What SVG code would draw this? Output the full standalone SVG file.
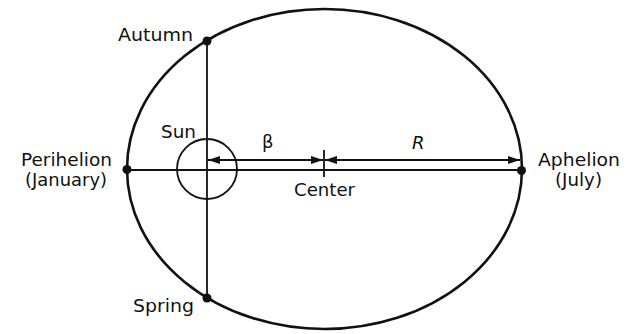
<svg xmlns="http://www.w3.org/2000/svg" width="632" height="334" viewBox="0 0 632 334">
<style>
.lbl{font-family:"DejaVu Sans","Liberation Sans",sans-serif;font-size:18px;fill:#111}
.sm{font-size:17px}
.ln{stroke:#111;stroke-width:1.8;fill:none}
.dot{fill:#111}
</style>
<defs>
<marker id="ah" viewBox="0 0 12 8" refX="12" refY="4" markerWidth="12" markerHeight="8" markerUnits="userSpaceOnUse" orient="auto-start-reverse">
<path d="M0,0 L12,4 L0,8 z" fill="#111"/>
</marker>
</defs>
<rect width="632" height="334" fill="#fff"/>
<g id="orbit">
<ellipse cx="324.5" cy="169" rx="197.5" ry="160" fill="none" stroke="#111" stroke-width="2.6"/>
</g>
<g id="connectors">
<line class="ln" x1="127" y1="170" x2="522" y2="170"/>
<line class="ln" x1="207" y1="41" x2="207" y2="298"/>
<line class="ln" x1="324" y1="150" x2="324" y2="177"/>
<line class="ln" x1="208" y1="160" x2="323" y2="160" marker-start="url(#ah)" marker-end="url(#ah)"/>
<line class="ln" x1="325" y1="160" x2="520" y2="160" marker-start="url(#ah)" marker-end="url(#ah)"/>
</g>
<g id="sun">
<circle cx="207" cy="169" r="30" fill="none" stroke="#111" stroke-width="1.8"/>
<text class="lbl" x="161" y="138" textLength="35" lengthAdjust="spacingAndGlyphs">Sun</text>
</g>
<g id="autumn">
<circle class="dot" cx="207" cy="41" r="4.5"/>
<text class="lbl" x="118" y="41" textLength="75" lengthAdjust="spacingAndGlyphs">Autumn</text>
</g>
<g id="spring">
<circle class="dot" cx="207" cy="298" r="4.5"/>
<text class="lbl" x="133" y="312" textLength="61" lengthAdjust="spacingAndGlyphs">Spring</text>
</g>
<g id="perihelion">
<circle class="dot" cx="127" cy="169.5" r="4.5"/>
<text class="lbl sm" x="21" y="166" textLength="91" lengthAdjust="spacingAndGlyphs">Perihelion</text>
<text class="lbl sm" x="25" y="186" textLength="82" lengthAdjust="spacingAndGlyphs">(January)</text>
</g>
<g id="aphelion">
<circle class="dot" cx="521.5" cy="170.5" r="4.5"/>
<text class="lbl sm" x="538" y="166" textLength="82" lengthAdjust="spacingAndGlyphs">Aphelion</text>
<text class="lbl sm" x="555" y="186" textLength="47" lengthAdjust="spacingAndGlyphs">(July)</text>
</g>
<g id="center">
<text class="lbl" x="294" y="196" textLength="61" lengthAdjust="spacingAndGlyphs">Center</text>
</g>
<g id="labels">
<text class="lbl" x="262" y="148">β</text>
<text class="lbl" x="412" y="149" font-style="italic">R</text>
</g>
</svg>
